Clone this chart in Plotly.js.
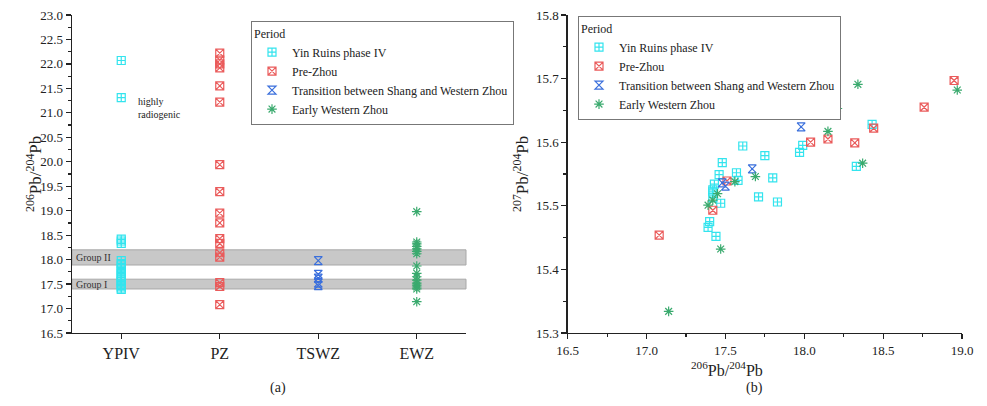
<!DOCTYPE html>
<html>
<head>
<meta charset="utf-8">
<script src="https://cdn.plot.ly/plotly-3.0.1.min.js"></script>
<style>html,body{margin:0;padding:0;background:#fff;}#chart{width:987px;height:406px;}</style>
</head>
<body>
<div id="chart"></div>
<script>
// ---- Panel (a): 206Pb/204Pb by period ----
const categories = ["YPIV", "PZ", "TSWZ", "EWZ"];
const seriesNames = ["Yin Ruins phase IV", "Pre-Zhou", "Transition between Shang and Western Zhou", "Early Western Zhou"];
const ypivValues = [22.07, 21.31, 18.42, 18.38, 18.33, 17.98, 17.92, 17.87, 17.82, 17.77, 17.72, 17.68, 17.63, 17.58, 17.55, 17.50, 17.46, 17.42, 17.39];
const pzValues = [22.22, 22.08, 22.00, 21.92, 21.55, 21.22, 19.94, 19.39, 18.95, 18.75, 18.43, 18.33, 18.14, 18.05, 17.53, 17.45, 17.08];
const tswzValues = [17.98, 17.70, 17.62, 17.52, 17.47];
const ewzValues = [18.98, 18.36, 18.32, 18.27, 18.22, 18.17, 18.12, 17.87, 17.72, 17.65, 17.58, 17.52, 17.48, 17.44, 17.40, 17.14];
const groupBands = [{name: "Group II", lo: 17.89, hi: 18.20}, {name: "Group I", lo: 17.40, hi: 17.60}];

// ---- Panel (b): 207Pb/204Pb vs 206Pb/204Pb ----
const ypivX = [17.61, 17.75, 17.48, 17.46, 17.57, 17.58, 17.80, 17.97, 17.99, 18.43, 18.33, 17.71, 17.83, 17.43, 17.42, 17.42, 17.42, 17.47, 17.40, 17.39, 17.44];
const ypivY = [15.594, 15.579, 15.568, 15.549, 15.552, 15.540, 15.544, 15.584, 15.595, 15.628, 15.562, 15.514, 15.506, 15.534, 15.525, 15.522, 15.513, 15.504, 15.475, 15.466, 15.452];
const pzX = [18.95, 18.76, 18.44, 18.32, 18.15, 18.04, 17.51, 17.42, 17.08];
const pzY = [15.697, 15.655, 15.622, 15.599, 15.605, 15.600, 15.539, 15.493, 15.454];
const tswzX = [17.98, 17.67, 17.48, 17.50];
const tswzY = [15.624, 15.558, 15.536, 15.531];
const ewzX = [18.34, 18.97, 17.88, 18.21, 18.15, 18.37, 17.69, 17.56, 17.45, 17.42, 17.39, 17.47, 17.14];
const ewzY = [15.691, 15.682, 15.650, 15.653, 15.617, 15.567, 15.546, 15.538, 15.519, 15.509, 15.501, 15.432, 15.334];

const colors = ["#33e4ee", "#ea5b5b", "#3a6fdc", "#3aaa6e"];
const symbols = ["square-cross-open", "square-x-open", "hourglass-open", "asterisk-open"];
const FONT = "'Liberation Serif', 'Times New Roman', 'DejaVu Serif', serif";

function mk(i, size) {
  return {symbol: symbols[i], size: size, color: colors[i], line: {color: colors[i], width: 1.2}};
}

const leftVals = [ypivValues, pzValues, tswzValues, ewzValues];
const traces = [];
leftVals.forEach((vals, i) => {
  traces.push({
    type: "scatter", mode: "markers", name: seriesNames[i],
    x: vals.map(() => categories[i]), y: vals,
    xaxis: "x", yaxis: "y", marker: mk(i, 8), legend: "legend", hoverinfo: "skip"
  });
});
const rightX = [ypivX, pzX, tswzX, ewzX];
const rightY = [ypivY, pzY, tswzY, ewzY];
rightX.forEach((xs, i) => {
  traces.push({
    type: "scatter", mode: "markers", name: seriesNames[i],
    x: xs, y: rightY[i],
    xaxis: "x2", yaxis: "y2", marker: mk(i, 8), legend: "legend2", hoverinfo: "skip"
  });
});

const W = 987, H = 406;
const px = v => v / W, py = v => 1 - v / H;

const axisCommon = {
  showgrid: false, zeroline: false, showline: true, linecolor: "#222", linewidth: 1.3,
  ticks: "outside", ticklen: 5, tickwidth: 1.2, tickcolor: "#222", mirror: false,
  tickfont: {family: FONT, size: 13, color: "#222"}, fixedrange: true
};

const shapes = groupBands.map(b => ({
  type: "rect", xref: "x domain", yref: "y", x0: 0, x1: 1, y0: b.lo, y1: b.hi,
  fillcolor: "#c8c8c8", line: {color: "#a8a8a8", width: 1}, layer: "below"
}));

const annotations = [
  {xref: "paper", yref: "paper", x: px(21), y: py(174), text: "<sup>206</sup>Pb/<sup>204</sup>Pb", textangle: -90,
   showarrow: false, font: {family: FONT, size: 17, color: "#222"}},
  {xref: "paper", yref: "paper", x: px(521), y: py(174), text: "<sup>207</sup>Pb/<sup>204</sup>Pb", textangle: -90,
   showarrow: false, font: {family: FONT, size: 17, color: "#222"}},
  {xref: "paper", yref: "paper", x: px(765), y: py(369), yanchor: "middle", text: "<sup>206</sup>Pb/<sup>204</sup>Pb",
   showarrow: false, font: {family: FONT, size: 16, color: "#222"}},
  {xref: "paper", yref: "paper", x: px(268), y: py(398), text: "(a)", showarrow: false, font: {family: FONT, size: 14, color: "#222"}},
  {xref: "paper", yref: "paper", x: px(765), y: py(398), text: "(b)", showarrow: false, font: {family: FONT, size: 14, color: "#222"}},
  {xref: "paper", yref: "paper", x: px(136), y: py(94), xanchor: "left", align: "left", text: "highly<br>radiogenic",
   showarrow: false, font: {family: FONT, size: 10, color: "#222"}},
];
groupBands.forEach(b => {
  annotations.push({xref: "x domain", yref: "y", x: 0.005, y: (b.lo + b.hi) / 2, xanchor: "left", text: b.name,
    showarrow: false, font: {family: FONT, size: 10, color: "#333"}});
});

const legendCommon = {
  bgcolor: "#fff", bordercolor: "#777", borderwidth: 1, xanchor: "left", yanchor: "top",
  font: {family: FONT, size: 12, color: "#222"}, title: {text: "Period", font: {family: FONT, size: 12, color: "#222"}},
  tracegroupgap: 0, itemwidth: 30
};

const layout = {
  width: W, height: H, margin: {l: 0, r: 0, t: 0, b: 0},
  paper_bgcolor: "#fff", plot_bgcolor: "#fff", showlegend: true, hovermode: false,
  font: {family: FONT, color: "#222"},
  xaxis: Object.assign({}, axisCommon, {domain: [px(72), px(466)], type: "category", categoryorder: "array", categoryarray: categories,
    range: [-0.5, 3.5], anchor: "y", tickfont: {family: FONT, size: 16, color: "#222"}}),
  yaxis: Object.assign({}, axisCommon, {domain: [py(333), py(15)], range: [16.5, 23.0], dtick: 0.5, tick0: 16.5, tickformat: ".1f", anchor: "x",
    minor: {dtick: 0.25, ticklen: 3, tickcolor: "#222", ticks: "outside", showgrid: false}}),
  xaxis2: Object.assign({}, axisCommon, {domain: [px(567.7), px(962)], range: [16.5, 19.0], dtick: 0.5, tick0: 16.5, tickformat: ".1f", anchor: "y2",
    minor: {dtick: 0.25, ticklen: 3, tickcolor: "#222", ticks: "outside", showgrid: false}}),
  yaxis2: Object.assign({}, axisCommon, {domain: [py(333), py(15)], range: [15.3, 15.8], dtick: 0.1, tick0: 15.3, tickformat: ".1f", anchor: "x2",
    minor: {dtick: 0.05, ticklen: 3, tickcolor: "#222", ticks: "outside", showgrid: false}}),
  legend: Object.assign({}, legendCommon, {x: px(251), y: py(21)}),
  legend2: Object.assign({}, legendCommon, {x: px(578), y: py(16)}),
  shapes: shapes, annotations: annotations
};

Plotly.newPlot("chart", traces, layout, {staticPlot: true, displayModeBar: false});
</script>
</body>
</html>
